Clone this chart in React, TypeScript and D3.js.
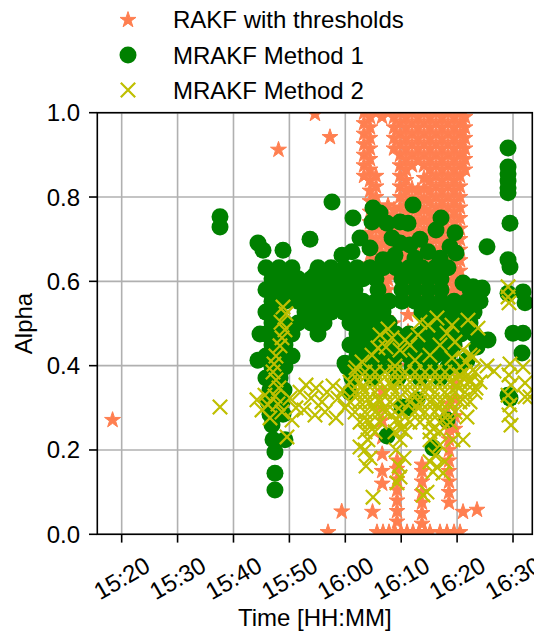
import React from "react";
import * as d3 from "d3";

// ---------- data (time in minutes after 15:00, alpha) ----------
const xTickMinutes = [20, 30, 40, 50, 60, 70, 80, 90];
const xTickLabels = ["15:20", "15:30", "15:40", "15:50", "16:00", "16:10", "16:20", "16:30"];
const yTickValues = [0, 0.2, 0.4, 0.6, 0.8, 1.0];
const seriesNames = ["RAKF with thresholds", "MRAKF Method 1", "MRAKF Method 2"];

// RAKF with thresholds: dense columns [time, alphas]
const rakfColumns: [number, number[]][] = [
  [63.35, [1.0, 0.975, 0.95, 0.925, 0.9, 0.875, 0.85]],
  [64.42, [0.99, 0.965, 0.94, 0.915, 0.89, 0.865, 0.84, 0.815, 0.79, 0.765, 0.74, 0.715, 0.69, 0.665, 0.64]],
  [65.49, [1.0, 0.85, 0.825, 0.8, 0.775, 0.75, 0.725, 0.7, 0.675, 0.65, 0.625, 0.6]],
  [66.57, [0.99, 0.765, 0.74, 0.715, 0.69, 0.665, 0.64, 0.615, 0.59]],
  [67.64, [1.0, 0.78, 0.755, 0.73, 0.705, 0.68, 0.655, 0.63, 0.605, 0.58]],
  [68.71, [0.99, 0.965, 0.94, 0.915, 0.77, 0.745, 0.72, 0.695, 0.67, 0.645, 0.62]],
  [69.79, [1.0, 0.975, 0.95, 0.925, 0.9, 0.875, 0.85, 0.825, 0.8, 0.775, 0.75, 0.725, 0.7, 0.675, 0.65, 0.625, 0.6]],
  [70.86, [0.99, 0.965, 0.94, 0.915, 0.89, 0.865, 0.84, 0.815, 0.79, 0.765, 0.74, 0.715, 0.69, 0.665, 0.64, 0.615, 0.59, 0.565]],
  [71.93, [1.0, 0.975, 0.95, 0.925, 0.9, 0.875, 0.82, 0.795, 0.77, 0.745, 0.72, 0.695, 0.67, 0.645, 0.62, 0.595]],
  [73.01, [0.99, 0.965, 0.94, 0.915, 0.89, 0.815, 0.79, 0.765, 0.74, 0.715, 0.69, 0.665, 0.64, 0.615, 0.59]],
  [74.08, [1.0, 0.975, 0.95, 0.925, 0.9, 0.875, 0.845, 0.82, 0.795, 0.77, 0.745, 0.72, 0.695, 0.67, 0.645, 0.62, 0.595, 0.57]],
  [75.15, [0.99, 0.965, 0.94, 0.915, 0.89, 0.865, 0.84, 0.815, 0.79, 0.765, 0.74, 0.715, 0.69, 0.665, 0.64, 0.615, 0.59, 0.565]],
  [76.23, [1.0, 0.975, 0.95, 0.925, 0.9, 0.875, 0.85, 0.825, 0.8, 0.775, 0.75, 0.725, 0.7, 0.675, 0.65, 0.625, 0.6, 0.575]],
  [77.3, [0.99, 0.965, 0.94, 0.915, 0.89, 0.865, 0.84, 0.815, 0.79, 0.765, 0.74, 0.715, 0.69, 0.665, 0.64, 0.615, 0.59]],
  [78.37, [1.0, 0.975, 0.95, 0.925, 0.9, 0.875, 0.85, 0.825, 0.8, 0.775, 0.75, 0.725, 0.7, 0.675, 0.65, 0.625, 0.6, 0.575]],
  [79.45, [0.99, 0.965, 0.94, 0.915, 0.89, 0.865, 0.84, 0.815, 0.79, 0.765, 0.74, 0.715, 0.69, 0.665, 0.64, 0.615, 0.59, 0.565, 0.54]],
  [80.52, [1.0, 0.975, 0.95, 0.925, 0.9, 0.875, 0.85, 0.825, 0.8, 0.775, 0.75, 0.725, 0.7, 0.675, 0.65, 0.625, 0.6, 0.575, 0.55]],
  [81.41, [0.99, 0.965, 0.94, 0.915, 0.89, 0.865]],
  [79.62, [0.52, 0.48, 0.44, 0.4, 0.36, 0.32, 0.28, 0.25]],
  [68.54, [0.5, 0.46]],
  [71.22, [0.52, 0.48, 0.44, 0.4]],
  [75.69, [0.55, 0.5, 0.45]],
  [69.25, [0.03, 0.055, 0.08, 0.105, 0.13, 0.155, 0.175]],
  [73.72, [0.025, 0.05, 0.075, 0.1, 0.125, 0.15, 0.165]],
  [78.55, [0.075, 0.1, 0.125, 0.15, 0.175, 0.2, 0.225, 0.25, 0.28, 0.31]],
  [66.6, [0.12, 0.15, 0.19, 0.23, 0.27, 0.3, 0.34]],
];
const rakfPoints: [number, number][] = [
  [18.37, 0.271], [48.05, 0.912], [54.58, 0.997], [57.26, 0.942],
  [56.91, 0.005], [59.36, 0.054], [64.87, 0.053], [81.06, 0.053], [83.56, 0.058],
  [65.67, 0.005], [66.75, 0.005], [67.82, 0.005], [68.89, 0.005], [69.97, 0.005], [71.04, 0.005],
  [72.11, 0.005], [73.18, 0.005], [74.26, 0.005], [75.15, 0.005], [76.94, 0.005], [78.19, 0.005],
  [79.45, 0.005], [80.52, 0.005],
];

// MRAKF Method 1
const mrakf1Points: [number, number][] = [
  [37.59, 0.753], [37.59, 0.729], [44.38, 0.691], [45.28, 0.674], [48.86, 0.674], [53.69, 0.7],
  [57.62, 0.788], [61.38, 0.75], [64.96, 0.774], [66.21, 0.762], [64.78, 0.741], [67.46, 0.738],
  [69.79, 0.741], [71.22, 0.738], [72.11, 0.781], [77.12, 0.75], [76.23, 0.722], [79.62, 0.715],
  [62.63, 0.703], [64.42, 0.679], [69.79, 0.691], [71.57, 0.686], [61.2, 0.67], [66.75, 0.651],
  [78.73, 0.682], [79.8, 0.667], [85.35, 0.682], [68.36, 0.703], [73.36, 0.7], [74.79, 0.67],
  [59.41, 0.662], [68.89, 0.662], [72.47, 0.655], [76.94, 0.655],
  // right side
  [89.11, 0.916], [89.11, 0.871], [89.11, 0.855], [89.11, 0.838], [89.11, 0.822], [89.11, 0.81],
  [89.46, 0.738], [89.11, 0.651], [89.46, 0.634], [81.06, 0.596], [82.85, 0.587], [84.46, 0.584],
  [91.79, 0.575], [92.15, 0.549], [89.11, 0.572], [81.77, 0.532], [82.31, 0.501], [90.0, 0.477],
  [91.79, 0.477], [85.53, 0.461], [83.56, 0.444], [91.61, 0.43], [89.11, 0.33], [89.46, 0.323],
  [81.77, 0.413], [80.52, 0.397],
  // lower scattered
  [60.84, 0.337], [59.95, 0.406], [67.46, 0.233], [70.14, 0.302], [71.22, 0.3], [72.83, 0.319],
  [75.69, 0.205], [78.19, 0.271],
  // main cluster
  [45.81, 0.632], [48.14, 0.632], [50.47, 0.632], [55.12, 0.632], [57.44, 0.632], [59.77, 0.632],
  [62.1, 0.632], [64.42, 0.632], [66.75, 0.632], [69.07, 0.632], [71.4, 0.632], [73.72, 0.632],
  [76.05, 0.632], [78.37, 0.632], [54.58, 0.615],
  [46.89, 0.606], [49.21, 0.606], [51.54, 0.606], [53.87, 0.606], [56.19, 0.606], [58.52, 0.606],
  [60.84, 0.606], [63.17, 0.606], [65.49, 0.606], [70.14, 0.606], [72.47, 0.606], [74.79, 0.606],
  [77.12, 0.606],
  [45.81, 0.58], [48.14, 0.58], [50.47, 0.58], [52.79, 0.58], [55.12, 0.58], [57.44, 0.58],
  [59.77, 0.58], [61.73, 0.58], [65.85, 0.58], [70.14, 0.58], [72.47, 0.58], [74.79, 0.58],
  [77.12, 0.58], [82.31, 0.58], [84.46, 0.58],
  [46.89, 0.553], [49.21, 0.553], [51.54, 0.553], [53.87, 0.553], [56.19, 0.553], [58.52, 0.553],
  [60.84, 0.553], [63.17, 0.553], [65.49, 0.553], [67.82, 0.553], [70.14, 0.553], [72.47, 0.553],
  [74.79, 0.553], [77.12, 0.553], [79.45, 0.553], [81.77, 0.553], [84.1, 0.553],
  [45.81, 0.527], [48.14, 0.527], [52.79, 0.527], [55.12, 0.527], [57.44, 0.527], [59.77, 0.527],
  [62.1, 0.527], [64.42, 0.527], [66.75, 0.527], [73.72, 0.527], [76.05, 0.527], [78.37, 0.527],
  [80.7, 0.527], [83.03, 0.527],
  [46.89, 0.501], [49.21, 0.501], [51.54, 0.501], [53.87, 0.501], [56.19, 0.501], [60.84, 0.501],
  [63.17, 0.501], [65.49, 0.501], [67.82, 0.501], [74.79, 0.501], [77.12, 0.501], [79.45, 0.501],
  [81.77, 0.501],
  [45.81, 0.475], [48.14, 0.475], [50.47, 0.475], [55.12, 0.475], [62.1, 0.475], [64.42, 0.475],
  [66.75, 0.475], [69.07, 0.475], [71.4, 0.475], [73.72, 0.475], [76.05, 0.475], [78.37, 0.475],
  [80.7, 0.475], [83.03, 0.475], [44.74, 0.475],
  [46.89, 0.449], [49.21, 0.449], [60.84, 0.449], [63.17, 0.449], [65.49, 0.449], [67.82, 0.449],
  [70.14, 0.449], [72.47, 0.449], [74.79, 0.449], [77.12, 0.449], [79.45, 0.449],
  [45.81, 0.423], [48.14, 0.423], [50.47, 0.423], [62.1, 0.423], [64.42, 0.423], [66.75, 0.423],
  [69.07, 0.423], [71.4, 0.423], [73.72, 0.423], [76.05, 0.423], [78.37, 0.423], [44.38, 0.413],
  [46.89, 0.397], [49.21, 0.397], [60.31, 0.397], [62.99, 0.397], [65.85, 0.397], [68.71, 0.397],
  [71.93, 0.397], [75.15, 0.397], [78.37, 0.397],
  [45.81, 0.371], [48.32, 0.371], [61.2, 0.371], [64.78, 0.371], [69.43, 0.371], [73.36, 0.371],
  [76.94, 0.371],
  [46.53, 0.342], [49.04, 0.342], [46.17, 0.314], [48.68, 0.314], [46.53, 0.285], [48.86, 0.285],
  [46.89, 0.259], [47.07, 0.224], [49.21, 0.224], [47.42, 0.195], [47.42, 0.145], [47.42, 0.105],
];

// MRAKF Method 2
const mrakf2Points: [number, number][] = [
  [37.59, 0.302],
  [48.86, 0.539], [49.39, 0.523], [48.5, 0.503], [49.21, 0.485], [48.68, 0.466], [48.32, 0.447],
  [47.6, 0.423], [47.25, 0.404], [47.07, 0.385], [47.6, 0.366], [48.14, 0.347], [47.42, 0.328],
  [47.96, 0.309], [48.68, 0.29],
  [44.2, 0.319], [45.1, 0.295], [46.17, 0.307], [45.63, 0.33], [46.53, 0.276], [50.11, 0.323],
  [51.18, 0.3], [49.57, 0.231], [50.47, 0.271],
  [51.9, 0.337], [52.97, 0.354], [53.87, 0.323], [54.76, 0.347], [55.83, 0.314], [56.73, 0.337],
  [57.8, 0.352], [58.7, 0.323], [59.59, 0.342], [52.61, 0.295], [54.58, 0.283], [56.37, 0.29],
  [58.34, 0.276], [59.95, 0.3],
  // main band
  [61.74, 0.385], [63.53, 0.385], [65.32, 0.385], [67.11, 0.385], [68.89, 0.385], [70.68, 0.385],
  [72.47, 0.385], [74.26, 0.385], [76.05, 0.385], [77.83, 0.385], [79.62, 0.385], [81.41, 0.385],
  [83.2, 0.385],
  [60.84, 0.361], [62.63, 0.361], [64.42, 0.361], [66.21, 0.361], [68.0, 0.361], [69.79, 0.361],
  [71.57, 0.361], [73.36, 0.361], [75.15, 0.361], [76.94, 0.361], [78.73, 0.361], [80.52, 0.361],
  [82.31, 0.361], [84.1, 0.361],
  [61.74, 0.337], [63.53, 0.337], [65.32, 0.337], [67.11, 0.337], [68.89, 0.337], [70.68, 0.337],
  [72.47, 0.337], [74.26, 0.337], [76.05, 0.337], [77.83, 0.337], [79.62, 0.337], [81.41, 0.337],
  [83.2, 0.337],
  [60.84, 0.314], [62.63, 0.314], [64.42, 0.314], [66.21, 0.314], [68.0, 0.314], [71.57, 0.314],
  [73.36, 0.314], [75.15, 0.314], [76.94, 0.314], [78.73, 0.314], [80.52, 0.314], [82.31, 0.314],
  [61.74, 0.29], [63.53, 0.29], [65.32, 0.29], [67.11, 0.29], [68.89, 0.29], [72.47, 0.29],
  [74.26, 0.29], [76.05, 0.29], [77.83, 0.29], [79.62, 0.29],
  [62.63, 0.266], [64.42, 0.266], [66.21, 0.266], [69.79, 0.266], [71.57, 0.266], [73.36, 0.266],
  [75.15, 0.266], [76.94, 0.266], [78.73, 0.266],
  [63.53, 0.243], [65.32, 0.243], [68.89, 0.243], [70.68, 0.243], [75.15, 0.243], [76.94, 0.243],
  [63.0, 0.35], [64.0, 0.32], [65.0, 0.3], [63.8, 0.27], [64.8, 0.25], [62.2, 0.33], [68.4, 0.35],
  [69.4, 0.32], [70.2, 0.29], [69.0, 0.27], [70.0, 0.25], [74.6, 0.35], [75.6, 0.32], [76.6, 0.3],
  [77.4, 0.27], [75.8, 0.25], [66.0, 0.32], [67.0, 0.3], [72.0, 0.33], [73.0, 0.3], [78.2, 0.33],
  [80.0, 0.35], [81.0, 0.32],
  // in the green cluster
  [67.64, 0.487], [67.28, 0.444], [68.36, 0.466], [69.79, 0.437], [71.57, 0.449], [73.01, 0.473],
  [74.79, 0.496], [76.4, 0.513], [78.19, 0.477], [76.94, 0.449], [79.62, 0.456], [81.06, 0.437],
  [82.85, 0.421], [79.09, 0.418], [75.15, 0.425], [72.47, 0.413], [64.78, 0.425], [62.99, 0.409],
  [61.92, 0.395], [81.95, 0.508], [83.74, 0.489], [73.36, 0.503], [79.09, 0.496], [66.21, 0.473],
  [68.89, 0.399], [70.68, 0.461], [65.85, 0.442],
  // right
  [85.35, 0.399], [86.6, 0.387], [82.31, 0.425], [81.59, 0.409], [82.85, 0.39], [80.52, 0.378],
  [82.31, 0.366], [83.38, 0.347], [81.77, 0.278], [81.06, 0.224],
  [89.11, 0.587], [89.11, 0.563], [89.28, 0.549],
  [89.46, 0.404], [89.28, 0.378], [89.64, 0.354], [89.11, 0.33], [89.46, 0.307], [89.28, 0.283],
  [89.64, 0.259], [92.15, 0.359], [92.15, 0.326], [91.79, 0.397], [93.04, 0.326],
  // tails
  [64.06, 0.224], [63.53, 0.2], [64.42, 0.181], [63.71, 0.162], [62.63, 0.207], [64.96, 0.088],
  [69.79, 0.224], [69.07, 0.2], [70.5, 0.181], [69.61, 0.162], [69.79, 0.136], [69.25, 0.122],
  [75.15, 0.224], [76.94, 0.212], [79.27, 0.224], [76.05, 0.188], [77.83, 0.172], [75.15, 0.172],
  [75.69, 0.148], [76.4, 0.16], [77.48, 0.145], [74.61, 0.1], [73.9, 0.093],
];

// ---------- layout ----------
const W = 534;
const H = 633;
const plotLeft = 97.3;
const plotRight = 532.3;
const plotTop = 112.7;
const plotBottom = 534.3;

const CORAL = "#ff7f50";
const GREEN = "#008000";
const OLIVE = "#bfbf00";
const FONT = "'Liberation Sans', Arial, Helvetica, sans-serif";

function starPath(R: number): string {
  const pts: [number, number][] = [];
  for (let i = 0; i < 10; i++) {
    const ang = -Math.PI / 2 + (i * Math.PI) / 5;
    const r = i % 2 === 0 ? R : R * 0.382;
    pts.push([r * Math.cos(ang), r * Math.sin(ang)]);
  }
  return d3.line()(pts) + "Z";
}

const STAR = starPath(8.4);
const CROSS = "M-7.2,-7.2L7.2,7.2M-7.2,7.2L7.2,-7.2";

export default function App() {
  const x = d3.scaleLinear().domain([15.64, 93.45]).range([plotLeft, plotRight]);
  const y = d3.scaleLinear().domain([0, 1]).range([plotBottom, plotTop]);

  const stars: [number, number][] = [];
  rakfColumns.forEach(([t, as]) => as.forEach((a) => stars.push([t, a])));
  rakfPoints.forEach((p) => stars.push(p));

  return (
    <svg
      width={W}
      height={H}
      style={{ position: "fixed", left: 0, top: 0, background: "#fff" }}
      fontFamily={FONT}
    >
      <rect x={0} y={0} width={W} height={H} fill="#fff" />
      <defs>
        <clipPath id="plotclip">
          <rect x={plotLeft} y={plotTop} width={plotRight - plotLeft} height={plotBottom - plotTop} />
        </clipPath>
      </defs>

      {/* grid */}
      <g stroke="#b0b0b0" strokeWidth={1.6}>
        {xTickMinutes.map((m) => (
          <line key={"gx" + m} x1={x(m)} x2={x(m)} y1={plotTop} y2={plotBottom} />
        ))}
        {yTickValues.map((v) => (
          <line key={"gy" + v} x1={plotLeft} x2={plotRight} y1={y(v)} y2={y(v)} />
        ))}
      </g>

      {/* data */}
      <g clipPath="url(#plotclip)">
        <g fill={CORAL} stroke={CORAL} strokeWidth={1}>
          {stars.map(([t, a], i) => (
            <path key={"s" + i} d={STAR} transform={`translate(${x(t)},${y(a)})`} />
          ))}
        </g>
        <g fill={GREEN}>
          {mrakf1Points.map(([t, a], i) => (
            <circle key={"c" + i} cx={x(t)} cy={y(a)} r={8.5} />
          ))}
        </g>
        <g stroke={OLIVE} strokeWidth={2.2} fill="none">
          {mrakf2Points.map(([t, a], i) => (
            <path key={"x" + i} d={CROSS} transform={`translate(${x(t)},${y(a)})`} />
          ))}
        </g>
      </g>

      {/* spines */}
      <rect
        x={plotLeft}
        y={plotTop}
        width={plotRight - plotLeft}
        height={plotBottom - plotTop}
        fill="none"
        stroke="#000"
        strokeWidth={1.6}
      />

      {/* y ticks */}
      {yTickValues.map((v) => (
        <g key={"yt" + v}>
          <line x1={plotLeft - 8.3} x2={plotLeft} y1={y(v)} y2={y(v)} stroke="#000" strokeWidth={1.6} />
          <text x={80} y={y(v)} textAnchor="end" dominantBaseline="central" fontSize={24} fill="#000">
            {v.toFixed(1)}
          </text>
        </g>
      ))}

      {/* x ticks */}
      {xTickMinutes.map((m, i) => (
        <g key={"xt" + m}>
          <line x1={x(m)} x2={x(m)} y1={plotBottom} y2={plotBottom + 8.3} stroke="#000" strokeWidth={1.6} />
          <text
            transform={`translate(${x(m)},578) rotate(-30)`}
            textAnchor="middle"
            dominantBaseline="central"
            fontSize={24}
            fill="#000"
          >
            {xTickLabels[i]}
          </text>
        </g>
      ))}

      {/* axis labels */}
      <text x={(plotLeft + plotRight) / 2} y={626} textAnchor="middle" fontSize={24} fill="#000">
        Time [HH:MM]
      </text>
      <text
        transform={`translate(32,${(plotTop + plotBottom) / 2}) rotate(-90)`}
        textAnchor="middle"
        fontSize={24}
        fill="#000"
      >
        Alpha
      </text>

      {/* legend */}
      <g>
        <path d={STAR} transform="translate(128,20)" fill={CORAL} stroke={CORAL} strokeWidth={1} />
        <text x={173} y={28} fontSize={24} fill="#000">{seriesNames[0]}</text>
        <circle cx={128} cy={55} r={8.5} fill={GREEN} />
        <text x={173} y={63.5} fontSize={24} fill="#000">{seriesNames[1]}</text>
        <path d={CROSS} transform="translate(128,90)" stroke={OLIVE} strokeWidth={2.2} fill="none" />
        <text x={173} y={99} fontSize={24} fill="#000">{seriesNames[2]}</text>
      </g>
    </svg>
  );
}
